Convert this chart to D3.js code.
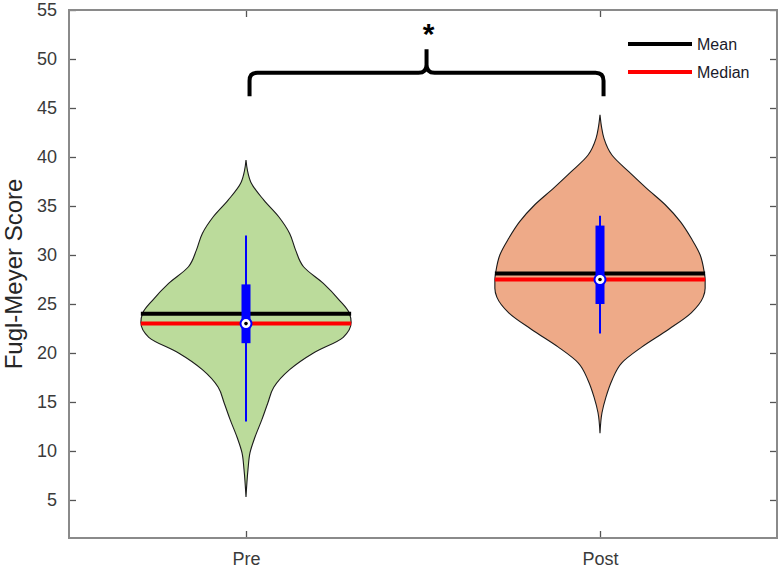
<!DOCTYPE html>
<html><head><meta charset="utf-8">
<script src="https://cdn.jsdelivr.net/npm/d3@7"></script>
<style>
body{margin:0;background:#fff}
svg{display:block}
text{font-family:"Liberation Sans",Arial,Helvetica,sans-serif}
</style>
</head><body>
<svg id="chart" width="780" height="575"></svg>
<script>
// ---------- data ----------
const categories = ["Pre", "Post"];
const yTicks = [5, 10, 15, 20, 25, 30, 35, 40, 45, 50, 55];

// violin outlines: score values and relative half-width (density) at each value
const preValues  = [39.7, 38.6, 37.4, 35.6, 33.9, 32.2, 30.5, 28.8, 27.1, 25.4, 24.1, 23.1, 21.6, 20.0, 18.3, 16.5, 14.9, 13.2, 11.4, 9.8, 8.1, 5.3];
const preDensity = [0,    1.5,  5,    18,   33,   44,   50,   58,   78,   94,   104,  106,  98,   68,   44,   28,   22,   16,   9,    4,   2,   0];
const postValues  = [44.3, 43.1, 41.9, 40.2, 38.5, 36.8, 35.1, 33.4, 31.7, 30.0, 28.3, 27.5, 26.6, 25.7, 24.1, 22.4, 20.6, 19.0, 17.2, 15.5, 13.9, 11.8];
const postDensity = [0,    1.5,  4,    12,   29,   47,   66,   81,   92,   101,  105,  106,  106,  104,  92,   69,   42,   22,   12,   6,    2,    0];

const means       = [24.0, 28.1];
const medians     = [23.0, 27.5];
const q1          = [21.0, 25.0];
const q3          = [27.0, 33.0];
const whiskerLow  = [13.0, 22.0];
const whiskerHigh = [32.0, 34.0];

const legendLabels = ["Mean", "Median"];
const significanceLabel = "*";
const yLabel = "Fugl-Meyer Score";

// ---------- layout ----------
const fillColors = ["#bbdb9b", "#eeaa88"];
const mLeft = 69, mRight = 777, mTop = 10, mBottom = 538;
const svg = d3.select("#chart");

const x = d3.scaleLinear().domain([0.5, 2.5]).range([mLeft, mRight]);
const y = d3.scaleLinear().domain([1.12, 55]).range([mBottom, mTop]);
const halfW = x(1.297) - x(1);
const w = d3.scaleLinear().domain([0, 106]).range([0, halfW]);

const axisColor = "#8a8a8a";
const tickColor = "#3a3a3a";

// ---------- violins ----------
const profiles = [
  preValues.map((v, i) => ({v, d: preDensity[i]})),
  postValues.map((v, i) => ({v, d: postDensity[i]}))
];

profiles.forEach((prof, i) => {
  const cx = x(i + 1);
  const area = d3.area()
    .curve(d3.curveMonotoneY)
    .y(d => y(d.v))
    .x0(d => cx - w(d.d))
    .x1(d => cx + w(d.d));
  svg.append("path")
    .attr("d", area(prof))
    .attr("fill", fillColors[i])
    .attr("stroke", "#1a1a1a")
    .attr("stroke-width", 1.1);
});

// mean & median lines
categories.forEach((c, i) => {
  const cx = x(i + 1);
  svg.append("line")
    .attr("x1", cx - halfW).attr("x2", cx + halfW)
    .attr("y1", y(means[i])).attr("y2", y(means[i]))
    .attr("stroke", "#000").attr("stroke-width", 4);
  svg.append("line")
    .attr("x1", cx - halfW).attr("x2", cx + halfW)
    .attr("y1", y(medians[i])).attr("y2", y(medians[i]))
    .attr("stroke", "#ff0000").attr("stroke-width", 4);
});

// box plots
categories.forEach((c, i) => {
  const cx = x(i + 1);
  svg.append("line")
    .attr("x1", cx).attr("x2", cx)
    .attr("y1", y(whiskerHigh[i])).attr("y2", y(whiskerLow[i]))
    .attr("stroke", "#0000ff").attr("stroke-width", 2);
  svg.append("rect")
    .attr("x", cx - 4.5).attr("width", 9)
    .attr("y", y(q3[i])).attr("height", y(q1[i]) - y(q3[i]))
    .attr("fill", "#0000ff");
  svg.append("circle")
    .attr("cx", cx).attr("cy", y(medians[i])).attr("r", 5.5)
    .attr("fill", "#fff").attr("stroke", "#0000ff").attr("stroke-width", 2);
  svg.append("circle")
    .attr("cx", cx).attr("cy", y(medians[i])).attr("r", 1.8)
    .attr("fill", "#000");
});

// ---------- axes (box) ----------
const gL = svg.append("g").attr("transform", `translate(${mLeft},0)`)
  .call(d3.axisLeft(y).tickValues(yTicks).tickSize(-7).tickPadding(12));
const gR = svg.append("g").attr("transform", `translate(${mRight},0)`)
  .call(d3.axisRight(y).tickValues(yTicks).tickSize(-7).tickFormat(""));
const gB = svg.append("g").attr("transform", `translate(0,${mBottom})`)
  .call(d3.axisBottom(x).tickValues([1, 2]).tickSize(-7).tickPadding(14)
    .tickFormat(d => categories[d - 1]));
const gT = svg.append("g").attr("transform", `translate(0,${mTop})`)
  .call(d3.axisTop(x).tickValues([1, 2]).tickSize(-7).tickFormat(""));

[gL, gR, gB, gT].forEach(g => {
  g.select(".domain").remove();
  g.selectAll(".tick line").attr("stroke", "#555").attr("stroke-width", 1.3);
  g.selectAll(".tick text").attr("fill", tickColor).style("font-size", "18px");
});
svg.append("rect")
  .attr("x", mLeft).attr("y", mTop)
  .attr("width", mRight - mLeft).attr("height", mBottom - mTop)
  .attr("fill", "none").attr("stroke", axisColor).attr("stroke-width", 2);

// y label
svg.append("text")
  .attr("transform", `translate(22,${(mTop + mBottom) / 2}) rotate(-90)`)
  .attr("text-anchor", "middle")
  .attr("fill", "#262626")
  .style("font-size", "24px")
  .text(yLabel);

// ---------- significance bracket ----------
const bx1 = x(1.01), bx2 = x(2.01), bmid = (bx1 + bx2) / 2;
const byEnd = y(46.2), byLine = y(48.6), bySpike = y(51.0);
const r = 8;
const p = d3.path();
p.moveTo(bx1, byEnd);
p.lineTo(bx1, byLine + r);
p.quadraticCurveTo(bx1, byLine, bx1 + r, byLine);
p.lineTo(bmid - r, byLine);
p.quadraticCurveTo(bmid, byLine, bmid, byLine - r);
p.lineTo(bmid, bySpike);
p.moveTo(bmid, byLine - r);
p.quadraticCurveTo(bmid, byLine, bmid + r, byLine);
p.lineTo(bx2 - r, byLine);
p.quadraticCurveTo(bx2, byLine, bx2, byLine + r);
p.lineTo(bx2, byEnd);
svg.append("path").attr("d", p.toString())
  .attr("fill", "none").attr("stroke", "#000").attr("stroke-width", 4)
  .attr("stroke-linejoin", "round");
svg.append("text")
  .attr("x", bmid + 2).attr("y", y(51.0) - 5)
  .attr("text-anchor", "middle")
  .style("font-size", "30px").style("font-weight", "bold")
  .attr("fill", "#000")
  .text(significanceLabel);

// ---------- legend ----------
const legendColors = ["#000000", "#ff0000"];
legendLabels.forEach((lab, i) => {
  const ly = 44 + i * 28;
  svg.append("line")
    .attr("x1", 628).attr("x2", 692).attr("y1", ly).attr("y2", ly)
    .attr("stroke", legendColors[i]).attr("stroke-width", 4);
  svg.append("text")
    .attr("x", 697).attr("y", ly + 6)
    .attr("fill", "#1a1a2a")
    .style("font-size", "16px")
    .text(lab);
});
</script>
</body></html>
